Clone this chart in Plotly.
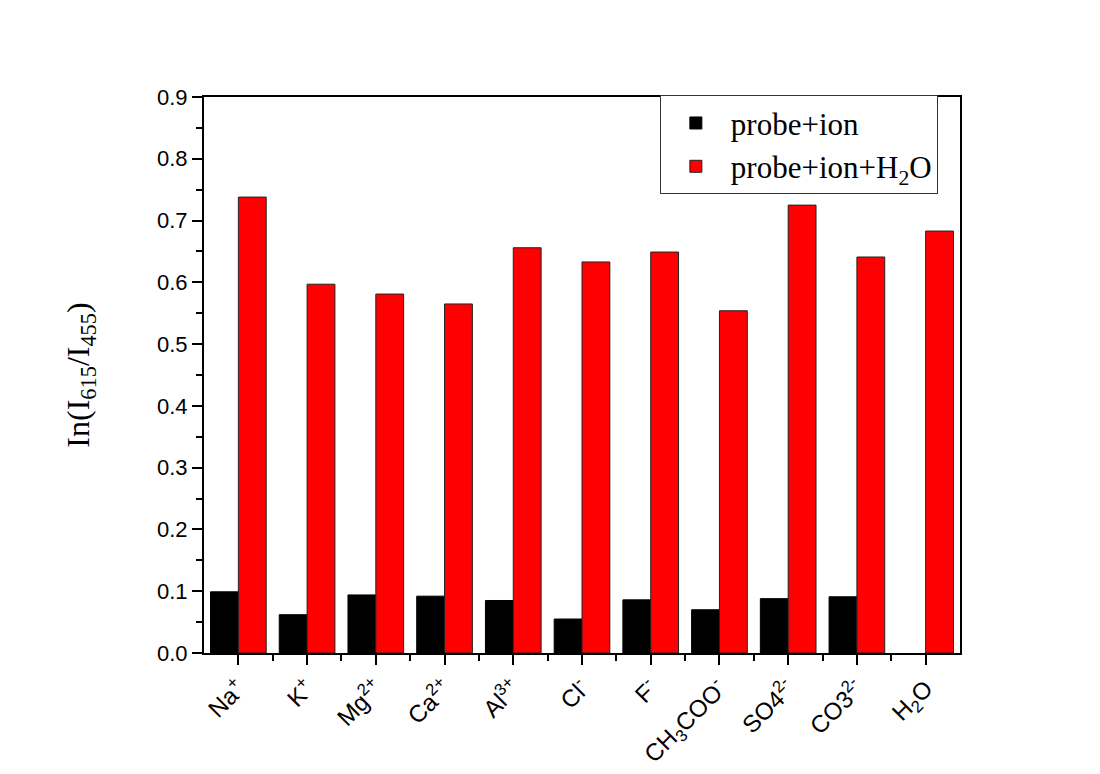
import plotly.graph_objects as go

categories = ["Na<sup>+</sup>", "K<sup>+</sup>", "Mg<sup>2+</sup>", "Ca<sup>2+</sup>", "Al<sup>3+</sup>",
              "Cl<sup>-</sup>", "F<sup>-</sup>", "CH<sub>3</sub>COO<sup>-</sup>", "SO4<sup>2-</sup>",
              "CO3<sup>2-</sup>", "H<sub>2</sub>O"]
probe_ion = [0.099, 0.062, 0.094, 0.092, 0.085, 0.055, 0.086, 0.070, 0.088, 0.091, 0.0]
probe_ion_h2o = [0.738, 0.597, 0.581, 0.565, 0.656, 0.633, 0.649, 0.554, 0.725, 0.641, 0.683]
y_ticks = [0.0, 0.1, 0.2, 0.3, 0.4, 0.5, 0.6, 0.7, 0.8, 0.9]

x = list(range(len(categories)))
black_outline = [0 if v == 0 else 1 for v in probe_ion]

fig = go.Figure()
fig.add_trace(go.Bar(x=x, y=probe_ion, name="probe+ion",
                     marker=dict(color="black", line=dict(color="black", width=black_outline))))
fig.add_trace(go.Bar(x=x, y=probe_ion_h2o, name="probe+ion+H<sub>2</sub>O",
                     marker=dict(color="#ff0000", line=dict(color="#222222", width=1))))

fig.update_layout(
    width=1100, height=774,
    margin=dict(l=204, r=140, t=97, b=121),
    paper_bgcolor="white", plot_bgcolor="white",
    barmode="group", bargap=0.19, bargroupgap=0,
    showlegend=True,
    legend=dict(x=0.603, y=1.003, xanchor="left", yanchor="top",
                bgcolor="white", bordercolor="#333333", borderwidth=1,
                font=dict(family="Liberation Serif", size=31, color="black"),
                tracegroupgap=0, itemwidth=60),
    font=dict(family="Liberation Sans", color="black"),
)
fig.update_xaxes(
    range=[-0.5, 10.5], tickmode="array", tickvals=x, ticktext=categories,
    tickangle=-45, tickfont=dict(family="Liberation Sans", size=24, color="black"),
    showline=True, linecolor="black", linewidth=2, mirror=True,
    ticks="outside", ticklen=10, tickwidth=2, tickcolor="black",
    minor=dict(tickmode="array", tickvals=[i + 0.5 for i in x[:-1]], ticks="outside",
               ticklen=6, tickwidth=2, tickcolor="black"),
    showgrid=False, zeroline=False, automargin=False,
)
fig.update_yaxes(
    range=[0, 0.9], tickmode="array", tickvals=y_ticks, tickformat=".1f",
    tickfont=dict(family="Liberation Sans", size=22, color="black"),
    showline=True, linecolor="black", linewidth=2, mirror=True,
    ticks="outside", ticklen=10, tickwidth=2, tickcolor="black",
    minor=dict(dtick=0.05, tick0=0, ticks="outside", ticklen=6, tickwidth=2, tickcolor="black"),
    showgrid=False, zeroline=False, automargin=False,
    title=dict(text="In(I<sub>615</sub>/I<sub>455</sub>)", standoff=58,
               font=dict(family="Liberation Serif", size=32, color="black")),
)

fig.write_html("out.html")
